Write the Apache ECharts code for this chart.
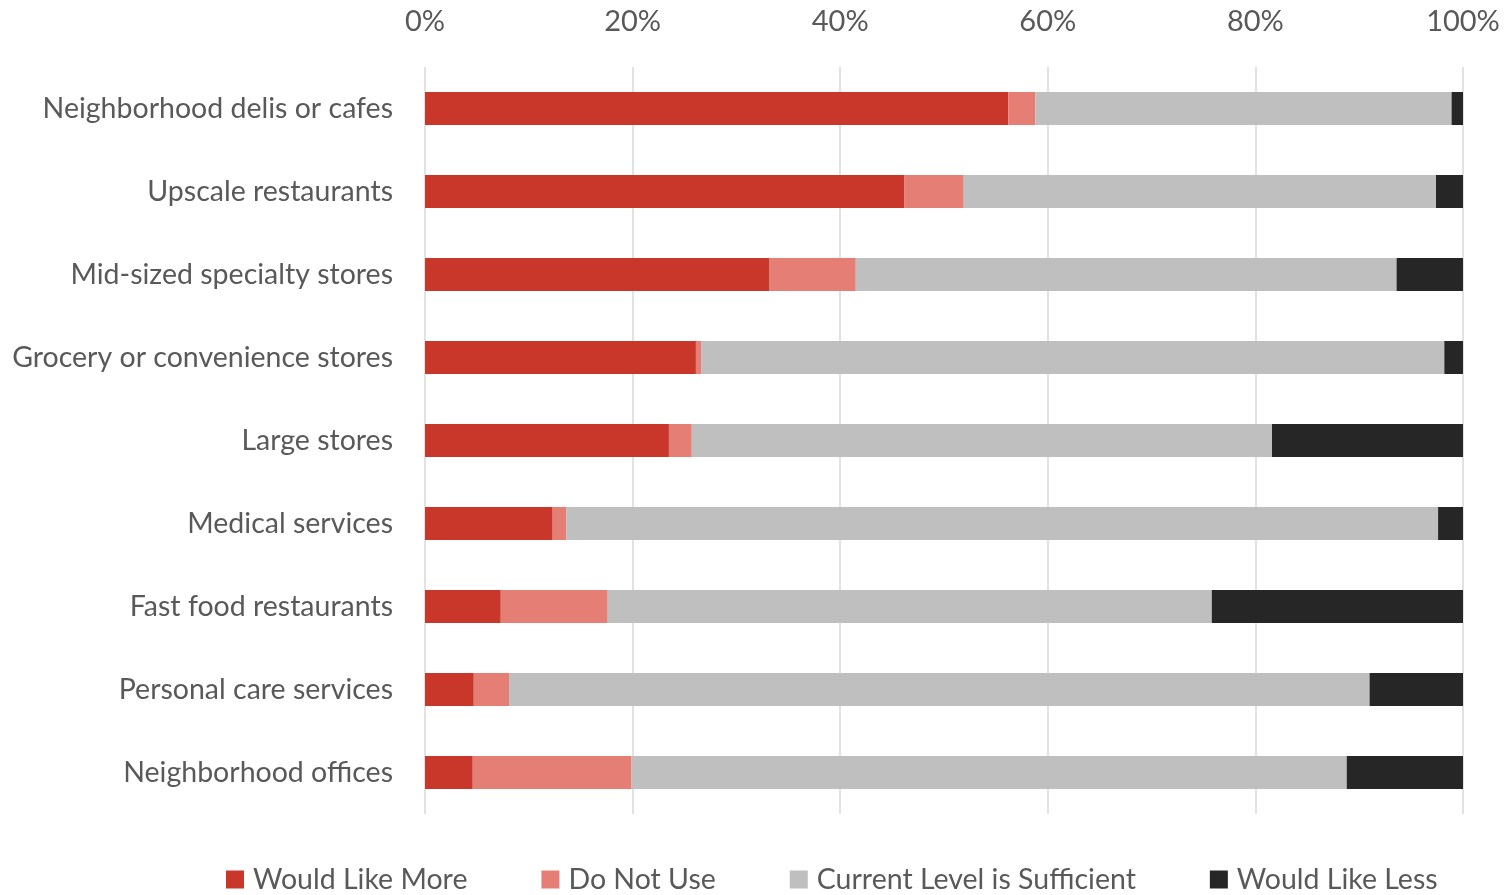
<!DOCTYPE html>
<html>
<head>
<meta charset="utf-8">
<script src="https://cdn.jsdelivr.net/npm/echarts@6/dist/echarts.min.js"></script>
<style>
html,body{margin:0;padding:0;background:#fff;}
#chart{width:1509px;height:895px;}
</style>
</head>
<body>
<div id="chart"></div>
<script>
const categories = [
  "Neighborhood delis or cafes",
  "Upscale restaurants",
  "Mid-sized specialty stores",
  "Grocery or convenience stores",
  "Large stores",
  "Medical services",
  "Fast food restaurants",
  "Personal care services",
  "Neighborhood offices"
];
const wouldLikeMore = [56.2, 46.2, 33.2, 26.1, 23.5, 12.3, 7.3, 4.7, 4.6];
const doNotUse      = [2.6, 5.7, 8.3, 0.5, 2.2, 1.3, 10.3, 3.4, 15.3];
const sufficient    = [40.1, 45.5, 52.1, 71.6, 55.9, 84.0, 58.2, 82.9, 68.9];
const wouldLikeLess = [1.1, 2.6, 6.4, 1.8, 18.4, 2.4, 24.2, 9.0, 11.2];
const seriesNames = ["Would Like More", "Do Not Use", "Current Level is Sufficient", "Would Like Less"];
const colors = ["#C8372A", "#E57F76", "#BFBFBF", "#262626"];

const FONT = "Lato";
const chart = echarts.init(document.getElementById('chart'), null, {renderer: 'canvas'});
const dataSets = [wouldLikeMore, doNotUse, sufficient, wouldLikeLess];
chart.setOption({
  animation: false,
  textStyle: {fontFamily: FONT},
  grid: {left: 425, right: 46, top: 67, bottom: 81, containLabel: false},
  legend: {
    top: 865,
    left: 226,
    itemWidth: 18,
    itemHeight: 18,
    itemGap: 74,
    icon: 'rect',
    padding: 0,
    textStyle: {fontFamily: FONT, fontSize: 28.5, color: '#595959', padding: [0,0,0,4]},
    data: seriesNames
  },
  xAxis: {
    type: 'value',
    position: 'top',
    min: 0, max: 100, interval: 20,
    axisLine: {show: false},
    axisTick: {show: false},
    splitLine: {lineStyle: {color: '#D9D9D9', width: 1.5}},
    axisLabel: {formatter: '{value}%', fontFamily: FONT, fontSize: 29, color: '#595959', margin: 31}
  },
  yAxis: {
    type: 'category',
    inverse: true,
    data: categories,
    axisLine: {show: false},
    axisTick: {show: false},
    axisLabel: {fontFamily: FONT, fontSize: 28.5, color: '#595959', margin: 32}
  },
  series: seriesNames.map((n, i) => ({
    name: n,
    type: 'bar',
    stack: 'total',
    barWidth: 33,
    itemStyle: {color: colors[i]},
    data: dataSets[i]
  }))
});
</script>
</body>
</html>
